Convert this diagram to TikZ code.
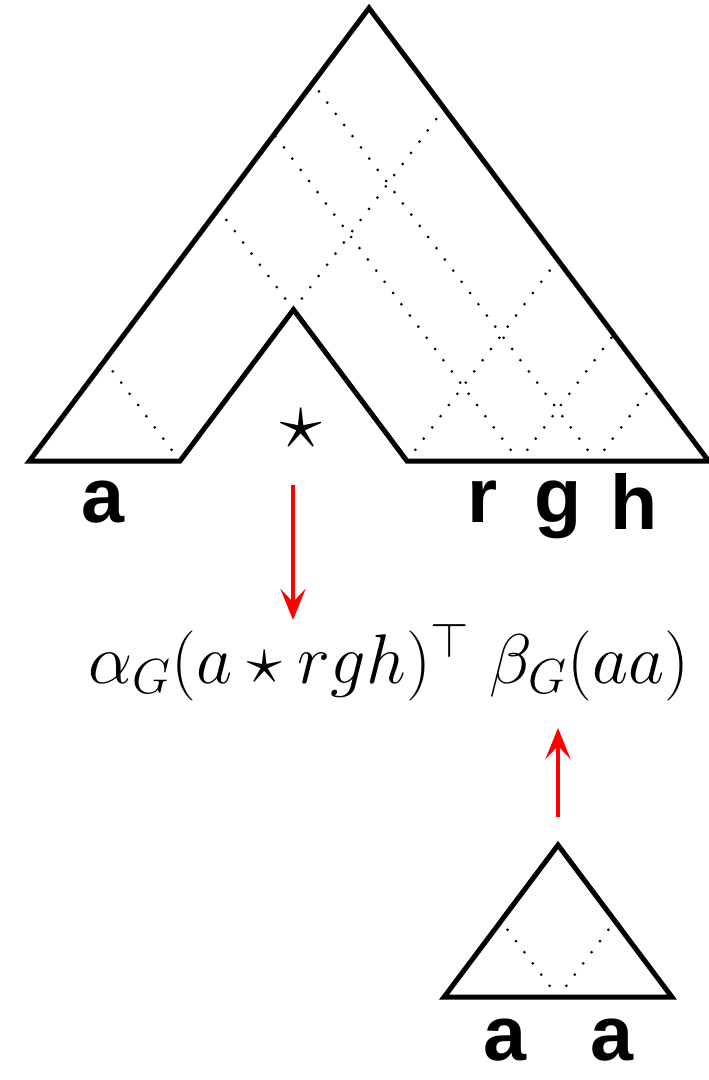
\RequirePackage{fix-cm}
\documentclass[tikz,border=0pt]{standalone}
\usepackage{fontspec}
\newfontfamily\leaffont{Liberation Sans}
\usetikzlibrary{arrows.meta, calc}
\definecolor{cred}{HTML}{FF0000}
\tikzset{
  every picture/.style={x=0.02cm, y=-0.02cm},
  tri/.style={draw=black, line width=0.1cm, line join=miter},
  dotline/.style={draw=black, line width=0.06cm, line cap=round, dash pattern=on 0pt off 0.28cm},
  leaf/.style={font=\leaffont\bfseries\fontsize{44}{44}\selectfont, anchor=base, inner sep=0pt},
  feed/.style={draw=cred, line width=0.09cm, -{Stealth[length=0.62cm, width=0.5cm, inset=0.26cm]}},
}
\begin{document}
\begin{tikzpicture}
  \useasboundingbox (0,0) rectangle (709,1080);
  % ---------- big tree with a hole at the star
  \coordinate (big-l) at (29.4,461);
  \coordinate (big-top) at (369,8);
  \coordinate (big-r) at (708.6,461);
  \coordinate (hole-l) at (180,461);
  \coordinate (hole-top) at (293.5,309.6);
  \coordinate (hole-r) at (407,461);
  \draw[tri] (big-l) -- (big-top) -- (big-r) -- (hole-r) -- (hole-top) -- (hole-l) -- cycle;
  \foreach \b in {180,519,596}
    \draw[dotline] (\b,461) -- ({(29.4+\b)/2},{461-1.334*(\b-29.4)/2});
  \foreach \b in {519,596}
    \draw[dotline] (\b,461) -- ({(\b+708.6)/2},{461-1.334*(708.6-\b)/2});
  \draw[dotline] (hole-r) -- (557.8,259.8);
  \draw[dotline] (hole-top) -- (218.2,209.1);
  \draw[dotline] (hole-top) -- (444.3,108.4);
  \node[inner sep=0pt, font=\fontsize{48}{48}\selectfont] (star) at (301,429) {$\star$};
  \foreach \t/\x/\y [count=\j] in {a/103/522, r/483/522, g/558/522, h/634/529}
    \node[leaf] (leaf\j) at (\x,\y) {\t};
  % ---------- inner product
  \node[inner sep=0pt, anchor=base, font=\fontsize{40}{42}\selectfont] (inner) at (389,683)
    {$\alpha_G(a\star rgh)^\top\; \beta_G(aa)$};
  \coordinate (in-from) at (293,485);
  \coordinate (in-to) at (293,620);
  \draw[feed] (in-from) -- (in-to);
  \coordinate (out-from) at (558,817);
  \coordinate (out-to) at (558,728);
  \draw[feed] (out-from) -- (out-to);
  % ---------- small tree
  \coordinate (small-l) at (444.1,997);
  \coordinate (small-top) at (558,845);
  \coordinate (small-r) at (671.9,997);
  \coordinate (small-m) at (558,997);
  \draw[tri] (small-l) -- (small-top) -- (small-r) -- cycle;
  \draw[dotline] (small-m) -- (501,921);
  \draw[dotline] (small-m) -- (615,921);
  \node[leaf] (aa1) at (505,1060) {a};
  \node[leaf] (aa2) at (612,1060) {a};
\end{tikzpicture}
\end{document}
